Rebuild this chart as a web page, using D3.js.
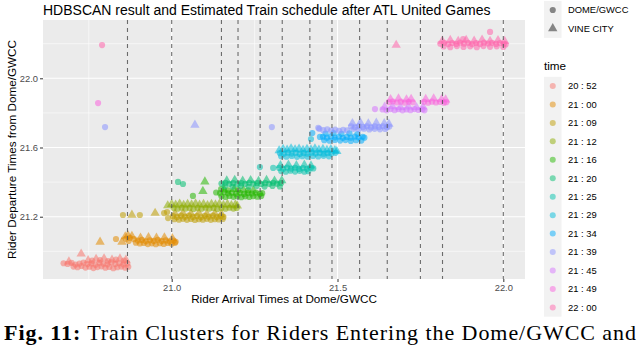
<!DOCTYPE html>
<html><head><meta charset="utf-8">
<script src="https://cdn.jsdelivr.net/npm/d3@7"></script>
<style>body{margin:0;background:#fff}svg{display:block}text{font-family:"Liberation Sans",Arial,sans-serif}</style>
</head><body><svg id="c" width="640" height="345"></svg>
<script>
// ---- data ----
const timeLabels = ["20 : 52","21 : 00","21 : 09","21 : 12","21 : 16","21 : 20","21 : 25","21 : 29","21 : 34","21 : 39","21 : 45","21 : 49","22 : 00"];
const palette = ["#F8766D","#E18A00","#BE9C00","#8CAB00","#24B700","#00BE70","#00C1AB","#00BBDA","#00ACFC","#8B93FF","#D575FE","#F962DD","#FF65AC"];
const stations = ["DOME/GWCC","VINE CITY"];
const xTicks = [21.0, 21.5, 22.0];
const yTicks = [21.2, 21.6, 22.0];

const dome2052 = [[20.674,20.931],[20.686,20.927],[20.698,20.933],[20.710,20.924],[20.722,20.929],[20.734,20.935],[20.746,20.926],[20.758,20.930],[20.770,20.922],[20.782,20.934],[20.794,20.928],[20.806,20.925],[20.818,20.936],[20.830,20.927],[20.842,20.931],[20.854,20.924],[20.866,20.930],
 [20.704,20.912],[20.716,20.908],[20.728,20.915],[20.740,20.906],[20.752,20.911],[20.764,20.903],[20.776,20.909],[20.788,20.913],[20.800,20.905],[20.812,20.910],[20.824,20.902],[20.836,20.908],[20.848,20.912],[20.860,20.905],[20.869,20.911],
 [20.760,20.946],[20.784,20.950],[20.808,20.944],[20.832,20.952],[20.856,20.946]];
const vine2052 = [[20.727,20.985],[20.690,20.940],[20.748,20.947],[20.772,20.955],[20.796,20.958],[20.820,20.951],[20.844,20.957],[20.862,20.950]];

const dome2100 = [[20.832,21.071],[20.862,21.072],[20.874,21.078],[20.886,21.070],[20.898,21.062],[20.910,21.066],[20.922,21.058],[20.934,21.064],[20.946,21.060],[20.958,21.067],[20.970,21.059],[20.982,21.063],[20.994,21.057],[21.006,21.062],[21.012,21.055],
 [20.870,21.060],[20.892,21.050],[20.904,21.045],[20.916,21.048],[20.928,21.042],[20.940,21.046],[20.952,21.041],[20.964,21.047],[20.976,21.043],[20.988,21.048],[21.000,21.044],[21.010,21.049]];
const vine2100 = [[20.784,21.054],[20.850,21.054],[20.860,21.085],[20.868,21.092],[20.880,21.088],[20.906,21.078],[20.930,21.080],[20.954,21.077],[20.978,21.079],[21.002,21.075]];

const dome2109 = [[20.853,21.210],[20.904,21.210],[20.977,21.221],[20.989,21.192],[20.986,21.227],
 [21.004,21.203],[21.016,21.198],[21.028,21.206],[21.040,21.200],[21.052,21.207],[21.064,21.199],[21.076,21.204],[21.088,21.197],[21.100,21.205],[21.112,21.200],[21.124,21.206],[21.136,21.198],[21.148,21.203],[21.156,21.199],
 [21.008,21.186],[21.022,21.183],[21.034,21.188],[21.046,21.182],[21.058,21.187],[21.070,21.181],[21.082,21.186],[21.094,21.183],[21.106,21.188],[21.118,21.182],[21.130,21.186],[21.142,21.184],[21.154,21.187]];
const vine2109 = [[20.880,21.210],[20.950,21.221],[21.010,21.218],[21.034,21.220],[21.058,21.217],[21.082,21.221],[21.106,21.216],[21.130,21.219],[21.150,21.215]];

const dome2112 = [[21.006,21.250],[21.018,21.246],[21.030,21.252],[21.042,21.247],[21.054,21.251],[21.066,21.245],[21.078,21.250],[21.090,21.246],[21.102,21.252],[21.114,21.247],[21.126,21.251],[21.138,21.245],[21.150,21.250],[21.162,21.246],[21.174,21.252],[21.186,21.247],[21.196,21.251]];
const vine2112 = [[20.988,21.264],[21.000,21.272],[21.012,21.268],[21.024,21.274],[21.036,21.267],[21.048,21.273],[21.060,21.269],[21.072,21.275],[21.084,21.268],[21.096,21.272],[21.108,21.266],[21.120,21.273],[21.132,21.269],[21.144,21.274],[21.156,21.267],[21.168,21.272],[21.180,21.266],[21.192,21.270],[21.198,21.263]];

const dome2116 = [[21.064,21.320],[21.149,21.360],
 [21.134,21.340],[21.146,21.336],[21.158,21.342],[21.170,21.335],[21.182,21.339],[21.194,21.333],[21.206,21.338],[21.218,21.332],[21.230,21.337],[21.242,21.334],[21.254,21.339],[21.266,21.333],[21.273,21.336],
 [21.150,21.318],[21.162,21.314],[21.174,21.320],[21.186,21.315],[21.198,21.319],[21.210,21.313],[21.222,21.318],[21.234,21.314],[21.246,21.319],[21.258,21.316],[21.270,21.320],
 [21.170,21.353],[21.200,21.356],[21.230,21.352]];
const vine2116 = [[21.094,21.347],[21.100,21.402],[21.158,21.355],[21.188,21.358],[21.216,21.354],[21.246,21.351]];

const dome2120 = [[21.019,21.401],[21.034,21.389],
 [21.150,21.392],[21.162,21.396],[21.174,21.390],[21.186,21.395],[21.198,21.389],[21.210,21.394],[21.222,21.390],[21.234,21.396],[21.246,21.391],[21.258,21.395],[21.270,21.389],[21.282,21.394],[21.294,21.390],[21.306,21.396],[21.318,21.391],[21.330,21.395],
 [21.160,21.376],[21.184,21.374],[21.208,21.378],[21.232,21.373],[21.256,21.377],[21.280,21.374],[21.304,21.378],[21.326,21.375]];
const vine2120 = [[21.166,21.408],[21.190,21.412],[21.214,21.407],[21.238,21.410],[21.262,21.406],[21.286,21.411],[21.310,21.407],[21.332,21.409]];

const dome2125 = [[21.266,21.487],[21.306,21.482],
 [21.324,21.482],[21.336,21.477],[21.348,21.484],[21.360,21.478],[21.372,21.483],[21.384,21.476],[21.396,21.481],[21.408,21.477],[21.420,21.483],[21.427,21.479],
 [21.330,21.464],[21.344,21.460],[21.358,21.466],[21.372,21.461],[21.386,21.465],[21.400,21.460],[21.412,21.463]];
const vine2125 = [[21.328,21.497],[21.352,21.500],[21.376,21.496],[21.400,21.499],[21.420,21.495]];

const dome2129 = [[21.420,21.649],
 [21.326,21.568],[21.338,21.564],[21.350,21.570],[21.362,21.565],[21.374,21.569],[21.386,21.563],[21.398,21.568],[21.410,21.564],[21.422,21.570],[21.434,21.566],[21.446,21.569],[21.458,21.564],[21.470,21.568],[21.482,21.565],[21.494,21.569],
 [21.330,21.550],[21.346,21.547],[21.362,21.551],[21.378,21.546],[21.394,21.550],[21.410,21.547],[21.426,21.551],[21.442,21.548],[21.458,21.552],[21.474,21.549]];
const vine2129 = [[21.324,21.582],[21.336,21.590],[21.348,21.586],[21.360,21.594],[21.372,21.588],[21.384,21.592],[21.396,21.585],[21.408,21.591],[21.420,21.587],[21.432,21.593],[21.444,21.586],[21.456,21.590],[21.468,21.584],[21.480,21.589],[21.492,21.583],[21.498,21.578]];

const dome2134 = [[21.424,21.684],[21.447,21.661],
 [21.456,21.662],[21.468,21.657],[21.480,21.664],[21.492,21.658],[21.504,21.663],[21.516,21.656],[21.528,21.661],[21.540,21.657],[21.552,21.663],[21.564,21.658],[21.576,21.662],[21.581,21.657],
 [21.460,21.642],[21.476,21.639],[21.492,21.644],[21.508,21.640],[21.524,21.643],[21.540,21.638],[21.556,21.642],[21.572,21.640],
 [21.464,21.680],[21.488,21.683],[21.512,21.679],[21.536,21.682],[21.560,21.678]];
const vine2134 = [];

const dome2139 = [[20.799,21.718],[21.302,21.718],[21.442,21.714],
 [21.445,21.708],[21.457,21.700],[21.469,21.705],[21.481,21.698],[21.493,21.703],[21.505,21.697],[21.517,21.702],[21.529,21.699],
 [21.541,21.722],[21.553,21.717],[21.565,21.724],[21.577,21.718],[21.589,21.723],[21.601,21.716],[21.613,21.722],[21.625,21.718],[21.637,21.723],[21.649,21.717],[21.656,21.721],
 [21.548,21.708],[21.564,21.705],[21.580,21.709],[21.596,21.704],[21.612,21.708],[21.628,21.705],[21.644,21.707]];
const vine2139 = [[21.070,21.730],[21.545,21.740],[21.569,21.743],[21.593,21.738],[21.617,21.742],[21.641,21.739],[21.655,21.736]];

const dome2145 = [[21.613,21.822],
 [21.636,21.820],[21.648,21.815],[21.660,21.822],[21.672,21.816],[21.684,21.821],[21.696,21.815],[21.708,21.820],[21.720,21.816],[21.732,21.822],[21.744,21.817],[21.756,21.821],[21.762,21.815]];
const vine2145 = [[21.642,21.834],[21.666,21.837],[21.690,21.833],[21.714,21.836],[21.738,21.832],[21.758,21.835]];

const dome2149 = [[20.778,21.857],
 [21.655,21.862],[21.667,21.866],[21.679,21.860],[21.691,21.865],[21.703,21.859],[21.715,21.864],[21.727,21.861],
 [21.761,21.864],[21.773,21.859],[21.785,21.865],[21.797,21.860],[21.809,21.864],[21.821,21.859],[21.828,21.862]];
const vine2149 = [[21.660,21.878],[21.684,21.882],[21.708,21.877],[21.722,21.880],[21.766,21.879],[21.790,21.883],[21.814,21.878],[21.826,21.876]];

const dome2200 = [[20.790,22.192],[21.960,22.268],[21.879,22.227],
 [21.810,22.200],[21.822,22.205],[21.834,22.198],[21.846,22.204],[21.858,22.199],[21.870,22.206],[21.882,22.200],[21.894,22.205],[21.906,22.198],[21.918,22.204],[21.930,22.199],[21.942,22.206],[21.954,22.201],[21.966,22.205],[21.978,22.199],[21.990,22.204],[22.002,22.200],[22.007,22.196],
 [21.820,22.184],[21.840,22.180],[21.860,22.186],[21.880,22.181],[21.900,22.185],[21.920,22.180],[21.940,22.186],[21.960,22.182],[21.980,22.185],[22.000,22.181]];
const vine2200 = [[21.677,22.192],[21.816,22.216],[21.840,22.220],[21.864,22.215],[21.888,22.221],[21.912,22.216],[21.936,22.222],[21.960,22.215],[21.984,22.219],[22.004,22.214]];

const domeSets = [dome2052,dome2100,dome2109,dome2112,dome2116,dome2120,dome2125,dome2129,dome2134,dome2139,dome2145,dome2149,dome2200];
const vineSets = [vine2052,vine2100,vine2109,vine2112,vine2116,vine2120,vine2125,vine2129,vine2134,vine2139,vine2145,vine2149,vine2200];

// ---- build ----
const pts = [];
timeLabels.forEach((t,i)=>{
  domeSets[i].forEach(p=>pts.push({x:p[0],y:p[1],time:t,station:stations[0]}));
  vineSets[i].forEach(p=>pts.push({x:p[0],y:p[1],time:t,station:stations[1]}));
});
const trainHours = timeLabels.map(t=>{const [h,m]=t.split(":").map(s=>+s.trim()); return h+m/60;});

const svg = d3.select("#c");
const P = {l:43, r:525, t:20, b:279};
const x = d3.scaleLinear().domain([20.6119, 22.0654]).range([P.l, P.r]);
const y = d3.scaleLinear().domain([20.840, 22.337]).range([P.b, P.t]);
const color = d3.scaleOrdinal().domain(timeLabels).range(palette);
const shape = d3.scaleOrdinal().domain(stations).range([d3.symbolCircle, d3.symbolTriangle]);
const sizeOf = s => s===stations[0] ? 30 : 38;

svg.append("rect").attr("x",P.l).attr("y",P.t).attr("width",P.r-P.l).attr("height",P.b-P.t).attr("fill","#EBEBEB");
const xMinor = [20.75, 21.25, 21.75];
const yMinor = [21.0, 21.4, 21.8, 22.2];
const g = svg.append("g");
g.selectAll(".xm").data(xMinor).join("line").attr("x1",d=>x(d)).attr("x2",d=>x(d)).attr("y1",P.t).attr("y2",P.b).attr("stroke","#fff").attr("stroke-width",0.55);
g.selectAll(".ym").data(yMinor).join("line").attr("y1",d=>y(d)).attr("y2",d=>y(d)).attr("x1",P.l).attr("x2",P.r).attr("stroke","#fff").attr("stroke-width",0.55);
g.selectAll(".xM").data(xTicks).join("line").attr("x1",d=>x(d)).attr("x2",d=>x(d)).attr("y1",P.t).attr("y2",P.b).attr("stroke","#fff").attr("stroke-width",1.1);
g.selectAll(".yM").data(yTicks).join("line").attr("y1",d=>y(d)).attr("y2",d=>y(d)).attr("x1",P.l).attr("x2",P.r).attr("stroke","#fff").attr("stroke-width",1.1);

// points
svg.append("g").selectAll("path").data(pts).join("path")
  .attr("transform",d=>`translate(${x(d.x)},${y(d.y)})`)
  .attr("d",d=>d3.symbol().type(shape(d.station)).size(sizeOf(d.station))())
  .attr("fill",d=>color(d.time)).attr("fill-opacity",0.55);

// train schedule lines
svg.append("g").selectAll("line").data(trainHours).join("line")
  .attr("x1",d=>x(d)).attr("x2",d=>x(d)).attr("y1",P.t).attr("y2",P.b)
  .attr("stroke","#555").attr("stroke-width",1.1).attr("stroke-dasharray","4,4").attr("stroke-opacity",0.85);

// axes
const xa = svg.append("g").attr("transform",`translate(0,${P.b})`)
  .call(d3.axisBottom(x).tickValues(xTicks).tickFormat(d3.format(".1f")).tickSize(3).tickPadding(2));
const ya = svg.append("g").attr("transform",`translate(${P.l},0)`)
  .call(d3.axisLeft(y).tickValues(yTicks).tickFormat(d3.format(".1f")).tickSize(3).tickPadding(2));
[xa,ya].forEach(a=>{a.select(".domain").remove();
  a.selectAll(".tick line").attr("stroke","#333");
  a.selectAll(".tick text").attr("fill","#4D4D4D").style("font-size","9.4px").style("font-family","Liberation Sans, Arial, sans-serif");});

// titles
svg.append("text").attr("x",P.l).attr("y",15).style("font-size","14px").attr("fill","#000")
  .text("HDBSCAN result and Estimated Train schedule after ATL United Games");
svg.append("text").attr("x",(P.l+P.r)/2).attr("y",303).attr("text-anchor","middle").style("font-size","11.7px").attr("fill","#000")
  .text("Rider Arrival Times at Dome/GWCC");
svg.append("text").attr("transform",`translate(15.5,${(P.t+P.b)/2}) rotate(-90)`).attr("text-anchor","middle").style("font-size","11.7px").attr("fill","#000")
  .text("Rider Departure Times from Dome/GWCC");

// shape legend
const LX = 544, KW = 17.5, KH = 18.45;
const sl = svg.append("g");
sl.append("rect").attr("x",LX).attr("y",1).attr("width",KW).attr("height",KH*2).attr("fill","#F2F2F2");
stations.forEach((s,i)=>{
  const cy = 10 + i*KH;
  sl.append("path").attr("transform",`translate(${LX+KW/2},${cy})`).attr("d",d3.symbol().type(shape(s)).size(sizeOf(s))()).attr("fill","#000").attr("fill-opacity",0.45);
  sl.append("text").attr("x",568).attr("y",cy).attr("dy","0.35em").style("font-size","9.4px").attr("fill","#000").text(s);
});

// color legend
const cl = svg.append("g");
cl.append("text").attr("x",LX).attr("y",70).style("font-size","11.7px").attr("fill","#000").text("time");
cl.append("rect").attr("x",LX).attr("y",76.8).attr("width",KW).attr("height",KH*timeLabels.length).attr("fill","#F2F2F2");
timeLabels.forEach((t,i)=>{
  const cy = 86 + i*KH;
  cl.append("circle").attr("cx",LX+KW/2).attr("cy",cy).attr("r",3).attr("fill",color(t)).attr("fill-opacity",0.5);
  cl.append("text").attr("x",568).attr("y",cy).attr("dy","0.35em").style("font-size","9.4px").attr("fill","#000").text(t);
});

// caption
const cap = svg.append("text").attr("x",4).attr("y",340).attr("textLength",632).attr("lengthAdjust","spacing")
  .style("font-family","Liberation Serif, Times New Roman, serif").style("font-size","22px").attr("fill","#000");
cap.append("tspan").style("font-weight","bold").text("Fig. 11:");
cap.append("tspan").text(" Train Clusters for Riders Entering the Dome/GWCC and");
</script></body></html>
